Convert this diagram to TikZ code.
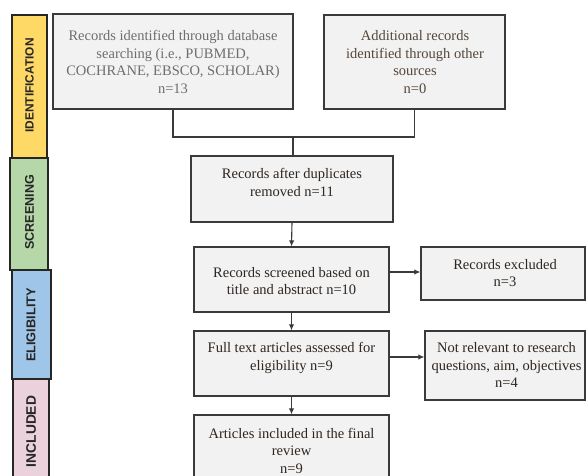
\documentclass[tikz,border=0pt]{standalone}
\usepackage{fontspec}
\setmainfont{Liberation Serif}
\newfontfamily\barfont{Liberation Sans}
\usetikzlibrary{arrows.meta}
\definecolor{boxfill}{HTML}{F2F2F2}
\definecolor{boxline}{HTML}{3A3A3A}
\definecolor{txtdark}{HTML}{2E2620}
\definecolor{txtgray}{HTML}{6E6E6E}
\definecolor{txtbrown}{HTML}{54473A}
\definecolor{barY}{HTML}{FFD966}
\definecolor{barG}{HTML}{B6D7A8}
\definecolor{barB}{HTML}{9FC5E8}
\definecolor{barP}{HTML}{EAD1DC}
\tikzset{
  boxshape/.style={draw=boxline, fill=boxfill, line width=1.3pt},
  boxtext/.style={align=center, inner sep=0pt, text=txtdark,
    font=\fontsize{14.5}{17.5}\selectfont},
  barshape/.style={draw=black!85, line width=1.1pt},
  bartext/.style={rotate=90, inner sep=0pt, text=black!85},
  conn/.style={draw=boxline, line width=1.1pt},
  arr/.style={conn, -{Latex[length=6pt,width=5.5pt]}}
}
\begin{document}
\begin{tikzpicture}[x=1pt,y=-1pt]
\clip (0,0) rectangle (587,476);
\fill[white] (0,0) rectangle (587,476);
% side bars
\node[barshape, fill=barY, minimum width=35pt, minimum height=143pt, inner sep=0pt] (sb1) at (29.5,86.5) {};
\node[barshape, fill=barG, minimum width=38pt, minimum height=112pt, inner sep=0pt] (sb2) at (29,214) {};
\node[barshape, fill=barB, minimum width=39pt, minimum height=109pt, inner sep=0pt] (sb3) at (31.5,324.5) {};
\node[barshape, fill=barP, minimum width=36pt, minimum height=110pt, inner sep=0pt] (sb4) at (31,434) {};
\node[bartext, font=\barfont\bfseries\fontsize{11.9}{12}\selectfont] (sl1) at (29.5,85.5) {IDENTIFICATION};
\node[bartext, font=\barfont\bfseries\fontsize{12.6}{13}\selectfont] (sl2) at (29.5,212.5) {SCREENING};
\node[bartext, font=\barfont\bfseries\fontsize{12.8}{13}\selectfont] (sl3) at (31,325) {ELIGIBILITY};
\node[bartext, font=\barfont\bfseries\fontsize{13.8}{14}\selectfont] (sl4) at (31,431.5) {INCLUDED};
% boxes
\node[boxshape, minimum width=240pt, minimum height=95pt, inner sep=0pt] (b1) at (173,61.5) {};
\node[boxshape, minimum width=181pt, minimum height=94pt, inner sep=0pt] (b2) at (414.5,62) {};
\node[boxshape, minimum width=202pt, minimum height=66pt, inner sep=0pt] (b3) at (292,189) {};
\node[boxshape, minimum width=195pt, minimum height=65pt, inner sep=0pt] (b4) at (291.5,279.5) {};
\node[boxshape, minimum width=164pt, minimum height=53pt, inner sep=0pt] (b5) at (503,273.5) {};
\node[boxshape, minimum width=195pt, minimum height=65pt, inner sep=0pt] (b6) at (291.5,363.5) {};
\node[boxshape, minimum width=160pt, minimum height=69pt, inner sep=0pt] (b7) at (505,365.5) {};
\node[boxshape, minimum width=195pt, minimum height=75pt, inner sep=0pt] (b8) at (291.5,452.5) {};
% texts
\node[boxtext, text=txtgray] (t1) at (173,62) {Records identified through database\\searching (i.e., PUBMED,\\COCHRANE, EBSCO, SCHOLAR)\\n=13};
\node[boxtext, text=txtbrown] (t2) at (415,62) {Additional records\\identified through other\\sources\\n=0};
\node[boxtext] (t3) at (292,182.5) {Records after duplicates\\removed n=11};
\node[boxtext] (t4) at (291.5,281) {Records screened based on\\title and abstract n=10};
\node[boxtext] (t5) at (505,273) {Records excluded\\n=3};
\node[boxtext] (t6) at (291.5,358) {Full text articles assessed for\\eligibility n=9};
\node[boxtext] (t7) at (506.5,365) {Not relevant to research\\questions, aim, objectives\\n=4};
\node[boxtext] (t8) at (291.5,450.5) {Articles included in the final\\review\\n=9};
% connectors
\coordinate (j) at (293,137);
\coordinate (a5) at (400,272);
\coordinate (a7) at (400,357);
\draw[conn] (b1.south) |- (b2.south |- j) -- (b2.south);
\draw[conn] (j) -- (b3.north -| j);
\draw[arr] (b3.south) -- (b4.north);
\draw[arr] (b4.east |- a5) -- (b5.west |- a5);
\draw[arr] (b4.south) -- (b6.north);
\draw[arr] (b6.east |- a7) -- (b7.west |- a7);
\draw[arr] (b6.south) -- (b8.north);
\end{tikzpicture}
\end{document}
